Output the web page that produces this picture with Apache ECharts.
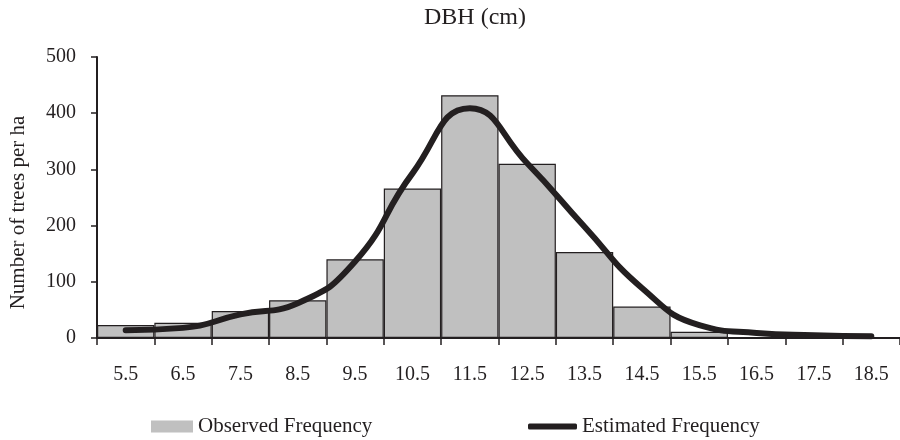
<!DOCTYPE html>
<html>
<head>
<meta charset="utf-8">
<script src="https://cdn.jsdelivr.net/npm/echarts@6/dist/echarts.min.js"></script>
<style>
  html, body { margin: 0; padding: 0; background: #fff; }
  #main { width: 900px; height: 440px; }
</style>
</head>
<body>
<div id="main"></div>
<script>
// DBH classes (cm)
var dbhClasses = ['5.5', '6.5', '7.5', '8.5', '9.5', '10.5', '11.5', '12.5', '13.5', '14.5', '15.5', '16.5', '17.5', '18.5'];
// observed trees per ha
var observed = [23, 27, 48, 67, 140, 266, 432, 310, 153, 56, 11, 0, 0, 0];
// estimated trees per ha (fitted curve)
var estimated = [14, 18, 42, 62, 136, 293, 409, 311, 198, 89, 23, 9, 5, 3];

var ink = '#231f20';
var serif = '"Liberation Serif", "Times New Roman", serif';

var myChart = echarts.init(document.getElementById('main'));
var option;

option = {
  animation: false,
  textStyle: { fontFamily: serif, color: ink },
  title: {
    text: 'DBH (cm)',
    left: 470,
    top: 1,
    textAlign: 'center',
    textStyle: { fontFamily: serif, fontSize: 24, fontWeight: 'normal', color: ink }
  },
  grid: {
    left: 96,
    right: 0,
    top: 57,
    bottom: 102
  },
  legend: [
    {
      data: ['Observed Frequency'],
      left: 151,
      top: 416,
      padding: 0,
      icon: 'rect',
      itemWidth: 42,
      itemHeight: 12,
      itemStyle: { color: '#c0c0c0', borderWidth: 0 },
      textStyle: { fontFamily: serif, fontSize: 21, color: ink }
    },
    {
      data: ['Estimated Frequency'],
      left: 528,
      top: 416,
      padding: 0,
      icon: 'roundRect',
      itemWidth: 49,
      itemHeight: 6,
      itemStyle: { color: ink, borderWidth: 0 },
      textStyle: { fontFamily: serif, fontSize: 21, color: ink }
    }
  ],
  xAxis: {
    type: 'category',
    data: dbhClasses,
    axisLine: { lineStyle: { color: ink, width: 2 } },
    axisTick: { show: true, length: 7, lineStyle: { color: ink, width: 1.5 } },
    axisLabel: { margin: 27, fontFamily: serif, fontSize: 20, color: ink }
  },
  yAxis: {
    type: 'value',
    min: 0,
    max: 500,
    interval: 100,
    name: 'Number of trees per ha',
    nameLocation: 'middle',
    nameGap: 68,
    nameTextStyle: { fontFamily: serif, fontSize: 21, color: ink, padding: [0, 30, 0, 0] },
    splitLine: { show: false },
    axisLine: { show: true, lineStyle: { color: ink, width: 2 } },
    axisTick: { show: true, length: 6, lineStyle: { color: ink, width: 1.5 } },
    axisLabel: { margin: 21, fontFamily: serif, fontSize: 20, color: ink }
  },
  series: [
    {
      name: 'Observed Frequency',
      type: 'bar',
      barCategoryGap: 0,
      itemStyle: { color: '#c0c0c0', borderColor: ink, borderWidth: 1.2 },
      data: observed
    },
    {
      name: 'Estimated Frequency',
      type: 'line',
      smooth: 0.5,
      symbol: 'none',
      lineStyle: { color: ink, width: 6, cap: 'round' },
      itemStyle: { color: ink },
      data: estimated
    }
  ]
};

option && myChart.setOption(option);
</script>
</body>
</html>
